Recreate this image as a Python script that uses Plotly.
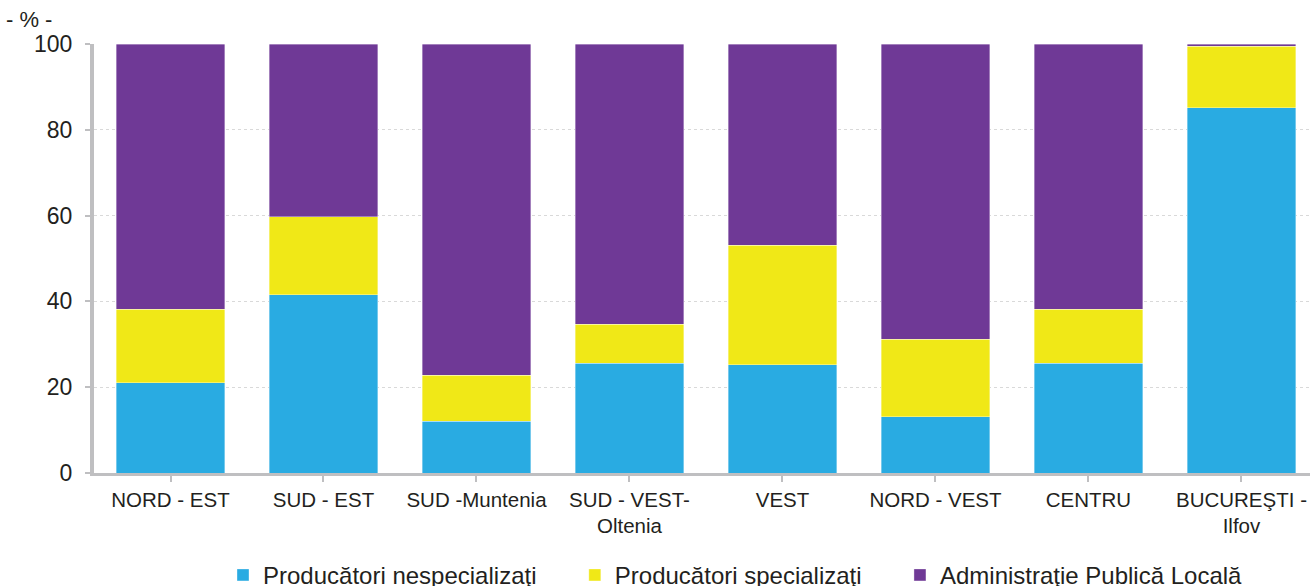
import plotly.graph_objects as go

categories = ["NORD - EST", "SUD - EST", "SUD -Muntenia", "SUD - VEST-<br>Oltenia", "VEST",
              "NORD - VEST", "CENTRU", "BUCUREŞTI -<br>Ilfov"]
nespecializati = [21.0, 41.5, 12.1, 25.6, 25.2, 13.1, 25.6, 85.1]
specializati = [17.2, 18.2, 10.7, 9.1, 27.9, 18.1, 12.6, 14.4]
administratie = [round(100 - a - b, 1) for a, b in zip(nespecializati, specializati)]

pad = "\u00a0" * 5
series = [
    ("Producători nespecializaţi" + pad, nespecializati, "#29ABE2"),
    ("Producători specializaţi" + pad, specializati, "#F0E817"),
    ("Administraţie Publică Locală", administratie, "#6F3996"),
]

fig = go.Figure()
for name, vals, col in series:
    fig.add_trace(go.Bar(x=list(range(len(categories))), y=vals, name=name,
                         marker=dict(color=col, line=dict(width=0.6, color="rgba(255,255,255,0.6)"))))

fig.update_layout(
    barmode="stack", bargap=0.29,
    width=1310, height=586,
    margin=dict(l=94, r=0, t=44, b=113, autoexpand=False),
    paper_bgcolor="white", plot_bgcolor="white",
    font=dict(family="Liberation Sans, Arial, sans-serif", color="#231F20"),
    showlegend=True,
    legend=dict(orientation="h", xref="container", x=223 / 1310, xanchor="left",
                yref="paper", y=-0.186, yanchor="top",
                font=dict(size=24), traceorder="normal", itemwidth=30),
    xaxis=dict(tickmode="array", tickvals=list(range(len(categories))), ticktext=categories,
               range=[-0.5, 7.448], showline=True, linecolor="#BFBFC1", linewidth=3,
               ticks="outside", tickcolor="#BFBFC1", ticklen=6, tickwidth=2,
               tickson="boundaries", tickfont=dict(size=20.5), showgrid=False, zeroline=False,
               automargin=False),
    yaxis=dict(range=[0, 100], tickvals=[0, 20, 40, 60, 80, 100], showline=True,
               linecolor="#BFBFC1", linewidth=4, ticks="outside", tickcolor="#BFBFC1",
               ticklen=5, tickwidth=2, tickfont=dict(size=23), ticklabelstandoff=8,
               showgrid=True, gridcolor="#D9D9D9", griddash="dot", gridwidth=1,
               zeroline=False, automargin=False),
)
fig.add_annotation(text="- % -", xref="paper", yref="paper", x=-90 / 1216, y=1.0, xanchor="left",
                   yanchor="bottom", yshift=10, showarrow=False, font=dict(size=22, color="#231F20"))

fig.write_html("out.html", config={"displayModeBar": False},
               post_script="document.body.style.margin='0';")
